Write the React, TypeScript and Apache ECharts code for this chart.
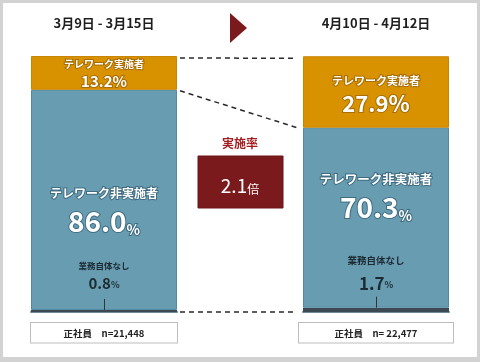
import React, { useEffect, useRef } from "react";
import * as echarts from "echarts";

const periods = ["3月9日 - 3月15日", "4月10日 - 4月12日"];
const implemented = [13.2, 27.9];
const notImplemented = [86.0, 70.3];
const noWork = [0.8, 1.7];
const sampleLabels = ["正社員　n=21,448", "正社員　n= 22,477"];
const ratioValue = "2.1";
const ratioUnit = "倍";
const ratioTitle = "実施率";
const implLabel = "テレワーク実施者";
const notImplLabel = "テレワーク非実施者";
const noWorkLabel = "業務自体なし";

const FONT = "'Noto Sans CJK JP', 'Noto Sans', sans-serif";
const ORANGE = "#d89200";
const BLUE = "#689cb1";
const DARK = "#3b4a52";
const RED = "#7b1a1c";

const GRID_TOP = 56;
const GRID_H = 256;
const BAR_W = 146;
const LEFTS = [31, 303];

// per-bar label sizes
const implT = [10, 11];
const implV = [15, 22];
const implTLH = [15, 20];
const implVLH = [18, 24];
const notT = [12, 12.5];
const notV = [28, 28];
const notDist = [74, 86];
const noT = [8.5, 9.5];
const noV = [15, 17];
const noTLH = [16, 26];
const noDist = [17, 15];

function buildSeries() {
  const s: any[] = [];
  for (let i = 0; i < 2; i++) {
    const base = {
      type: "bar",
      xAxisIndex: i * 2,
      yAxisIndex: i,
      stack: "s" + i,
      barWidth: "100%",
      barCategoryGap: 0,
    };
    s.push({
      ...base,
      name: noWorkLabel,
      data: [noWork[i]],
      itemStyle: { color: DARK },
      label: {
        show: true,
        position: "top",
        distance: noDist[i],
        formatter: `{t|${noWorkLabel}}\n{v|${noWork[i].toFixed(1)}}{p|%}`,
        rich: {
          t: { fontFamily: FONT, fontSize: noT[i], fontWeight: "bold", color: "#1c2a32", lineHeight: noTLH[i], align: "center" },
          v: { fontFamily: FONT, fontSize: noV[i], fontWeight: "bold", color: "#1c2a32", lineHeight: 20 },
          p: { fontFamily: FONT, fontSize: 9, fontWeight: "bold", color: "#1c2a32", lineHeight: 20, padding: [4, 0, 0, 0] },
        },
      },
    });
    s.push({
      ...base,
      name: notImplLabel,
      data: [notImplemented[i]],
      itemStyle: { color: BLUE, borderColor: "#4f8aa4", borderWidth: 1 },
      label: {
        show: true,
        position: "insideBottom",
        distance: notDist[i],
        formatter: `{t|${notImplLabel}}\n{v|${notImplemented[i].toFixed(1)}}{p|%}`,
        rich: {
          t: { fontFamily: FONT, fontSize: notT[i], fontWeight: "bold", color: "#fff", textBorderColor: "#3f6c80", textBorderWidth: 2, lineHeight: 22, align: "center" },
          v: { fontFamily: FONT, fontSize: notV[i], fontWeight: "bold", color: "#fff", textBorderColor: "#3f6c80", textBorderWidth: 2, lineHeight: 32 },
          p: { fontFamily: FONT, fontSize: 14, fontWeight: "bold", color: "#fff", textBorderColor: "#3f6c80", textBorderWidth: 2, lineHeight: 30, verticalAlign: "bottom" },
        },
      },
    });
    s.push({
      ...base,
      name: implLabel,
      data: [implemented[i]],
      itemStyle: { color: ORANGE, borderColor: "#c98400", borderWidth: 1 },
      label: {
        show: true,
        position: "inside",
        formatter: `{t|${implLabel}}\n{v|${implemented[i].toFixed(1)}%}`,
        rich: {
          t: { fontFamily: FONT, fontSize: implT[i], fontWeight: "bold", color: "#fff", textBorderColor: "#a86c00", textBorderWidth: 2, lineHeight: implTLH[i], align: "center" },
          v: { fontFamily: FONT, fontSize: implV[i], fontWeight: "bold", color: "#fff", textBorderColor: "#a86c00", textBorderWidth: 2, lineHeight: implVLH[i] },
        },
      },
    });
  }
  return s;
}

export default function App() {
  const ref = useRef<HTMLDivElement>(null);
  useEffect(() => {
    if (!ref.current) return;
    const chart = echarts.init(ref.current, undefined, { renderer: "svg" });
    const grids = LEFTS.map((l) => ({ left: l, top: GRID_TOP, width: BAR_W, height: GRID_H }));
    const xAxes: any[] = [];
    const yAxes: any[] = [];
    for (let i = 0; i < 2; i++) {
      xAxes.push({
        type: "category",
        gridIndex: i,
        data: [periods[i]],
        position: "top",
        offset: 22,
        axisLine: { show: true, lineStyle: { color: "#6d8a9b", width: 2 } },
        axisTick: { show: false },
        axisLabel: { fontFamily: FONT, fontSize: 13, fontWeight: "bold", color: "#1e1e1e", margin: 5 },
      });
      xAxes.push({
        type: "category",
        gridIndex: i,
        data: [sampleLabels[i]],
        position: "bottom",
        axisLine: { show: false },
        axisTick: { show: false },
        axisLabel: {
          fontFamily: FONT,
          fontSize: 9.5,
          fontWeight: "bold",
          color: "#222",
          margin: 11,
          width: i === 0 ? 146 : 154,
          align: "center",
          backgroundColor: "#fff",
          borderColor: "#bdbdbd",
          borderWidth: 1,
          padding: [5, 0, 5, 0],
        },
      });
      yAxes.push({ type: "value", gridIndex: i, min: 0, max: 100, show: false });
    }
    chart.setOption({
      animation: false,
      grid: grids,
      xAxis: xAxes,
      yAxis: yAxes,
      series: buildSeries(),
    });

    const yPix = (axis: number, v: number) => chart.convertToPixel({ yAxisIndex: axis } as any, v) as number;
    const leftTop = yPix(0, noWork[0] + notImplemented[0] + implemented[0]);
    const leftMid = yPix(0, noWork[0] + notImplemented[0]);
    const leftBot = yPix(0, 0);
    const rightTop = yPix(1, noWork[1] + notImplemented[1] + implemented[1]);
    const rightMid = yPix(1, noWork[1] + notImplemented[1]);
    const rightBot = yPix(1, 0);
    const lx = LEFTS[0] + BAR_W + 3;
    const rx = LEFTS[1] - 6;
    const dash = { stroke: "#2a2a2a", lineWidth: 1.5, lineDash: [5, 4] };
    const leaders = [0, 1].map((i) => {
      const yTop = yPix(i, noWork[i]);
      const cx = Math.round(LEFTS[i] + BAR_W / 2) + 0.5;
      return { type: "line", z: 10, shape: { x1: cx, y1: yTop - 11, x2: cx, y2: yTop }, style: { stroke: "#333", lineWidth: 1 } };
    });

    chart.setOption({
      graphic: [
        { type: "rect", z: -100, shape: { x: 0, y: 0, width: 480, height: 362 }, style: { fill: "#d2d2d2" } },
        { type: "rect", z: -99, shape: { x: 3, y: 3, width: 474, height: 354 }, style: { fill: "#ffffff" } },
        { type: "polygon", shape: { points: [[230, 13], [230, 43], [247, 28]] }, style: { fill: RED } },
        { type: "line", shape: { x1: lx, y1: leftTop + 2, x2: rx, y2: rightTop + 2 }, style: dash },
        { type: "line", shape: { x1: lx, y1: leftMid + 1, x2: rx, y2: rightMid }, style: dash },
        { type: "line", shape: { x1: lx, y1: leftBot, x2: rx, y2: rightBot }, style: dash },
        ...leaders,
        {
          type: "text",
          x: 240,
          y: 142,
          style: { text: ratioTitle, fontFamily: FONT, fontSize: 12, fontWeight: "bold", fill: "#a11d1f", align: "center", verticalAlign: "middle" },
        },
        { type: "rect", shape: { x: 198, y: 156, width: 85, height: 52 }, style: { fill: RED, stroke: "#6a1416", lineWidth: 1 } },
        {
          type: "text",
          x: 240,
          y: 182,
          style: {
            text: `{a|${ratioValue}}{b|${ratioUnit}}`,
            align: "center",
            verticalAlign: "middle",
            rich: {
              a: { fontFamily: FONT, fontSize: 19, fill: "#fff", color: "#fff", verticalAlign: "bottom", lineHeight: 24 },
              b: { fontFamily: FONT, fontSize: 12, fill: "#fff", color: "#fff", verticalAlign: "bottom", lineHeight: 22 },
            },
          },
        },
      ],
    });
    return () => chart.dispose();
  }, []);
  return <div ref={ref} style={{ position: "fixed", left: 0, top: 0, width: 480, height: 362 }} />;
}
